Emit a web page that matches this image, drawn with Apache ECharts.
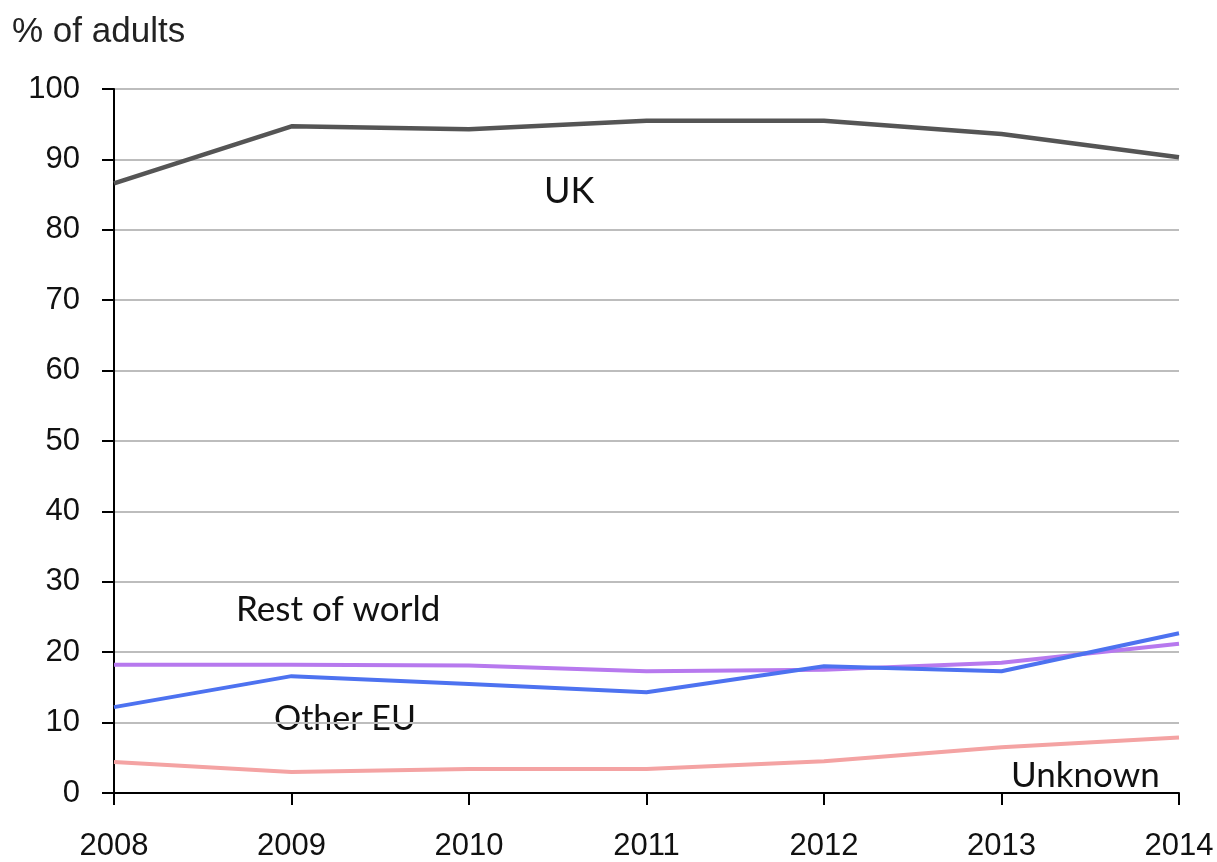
<!DOCTYPE html>
<html>
<head>
<meta charset="utf-8">
<script src="https://cdn.jsdelivr.net/npm/echarts@6/dist/echarts.min.js"></script>
<style>
html,body{margin:0;padding:0;background:#fff;}
#chart{width:1217px;height:862px;}
</style>
</head>
<body>
<div id="chart"></div>
<script>
const years = ['2008','2009','2010','2011','2012','2013','2014'];
const uk = [86.6, 94.7, 94.3, 95.5, 95.5, 93.6, 90.3];
const restOfWorld = [18.2, 18.2, 18.1, 17.3, 17.5, 18.5, 21.2];
const otherEU = [12.2, 16.6, 15.5, 14.3, 18.0, 17.3, 22.7];
const unknown = [4.4, 3.0, 3.4, 3.4, 4.5, 6.5, 7.9];
const yTicks = [0,10,20,30,40,50,60,70,80,90,100];

const chart = echarts.init(document.getElementById('chart'));
const labelFont = 'Lato, "Open Sans", sans-serif';
function mkSeries(name, data, color, width) {
  return {
    name: name, type: 'line', data: data, symbol: 'none',
    lineStyle: {color: color, width: width}, itemStyle: {color: color},
    animation: false
  };
}
chart.setOption({
  animation: false,
  grid: {left: 114, right: 38, top: 89, bottom: 69},
  xAxis: {
    type: 'category', data: years, boundaryGap: false,
    axisLine: {lineStyle: {color: '#000', width: 2}},
    axisTick: {show: true, length: 12, lineStyle: {color: '#000', width: 2}},
    axisLabel: {color: '#111', fontSize: 31, fontFamily: 'Liberation Sans, Arial, sans-serif', margin: 38},
    splitLine: {show: false}
  },
  yAxis: {
    type: 'value', min: 0, max: 100, interval: 10,
    axisLine: {show: true, lineStyle: {color: '#000', width: 2}},
    axisTick: {show: true, length: 12, lineStyle: {color: '#000', width: 2}},
    axisLabel: {color: '#111', fontSize: 31, fontFamily: 'Liberation Sans, Arial, sans-serif', margin: 34,
      formatter: function(v){ return yTicks.indexOf(v) >= 0 ? String(v) : ''; }},
    splitLine: {show: true, lineStyle: {color: '#bdbdbd', width: 2}}
  },
  series: [
    mkSeries('UK', uk, '#555555', 4.5),
    mkSeries('Rest of world', restOfWorld, '#b779ee', 4),
    mkSeries('Other EU', otherEU, '#4d72f0', 4),
    mkSeries('Unknown', unknown, '#f4a3a3', 4)
  ],
  graphic: [
    {type: 'text', left: 12, top: 15, style: {text: '% of adults', fill: '#222', font: '35px "Liberation Sans", Arial, sans-serif'}},
    {type: 'text', left: 544, top: 173, style: {text: 'UK', fill: '#111', font: '36px ' + labelFont}},
    {type: 'text', left: 236, top: 592, style: {text: 'Rest of world', fill: '#111', font: '35px ' + labelFont}},
    {type: 'text', left: 274, top: 702, style: {text: 'Other EU', fill: '#111', font: '34px ' + labelFont}},
    {type: 'text', left: 1011, top: 758, style: {text: 'Unknown', fill: '#111', font: '35px ' + labelFont}}
  ]
});
</script>
</body>
</html>
